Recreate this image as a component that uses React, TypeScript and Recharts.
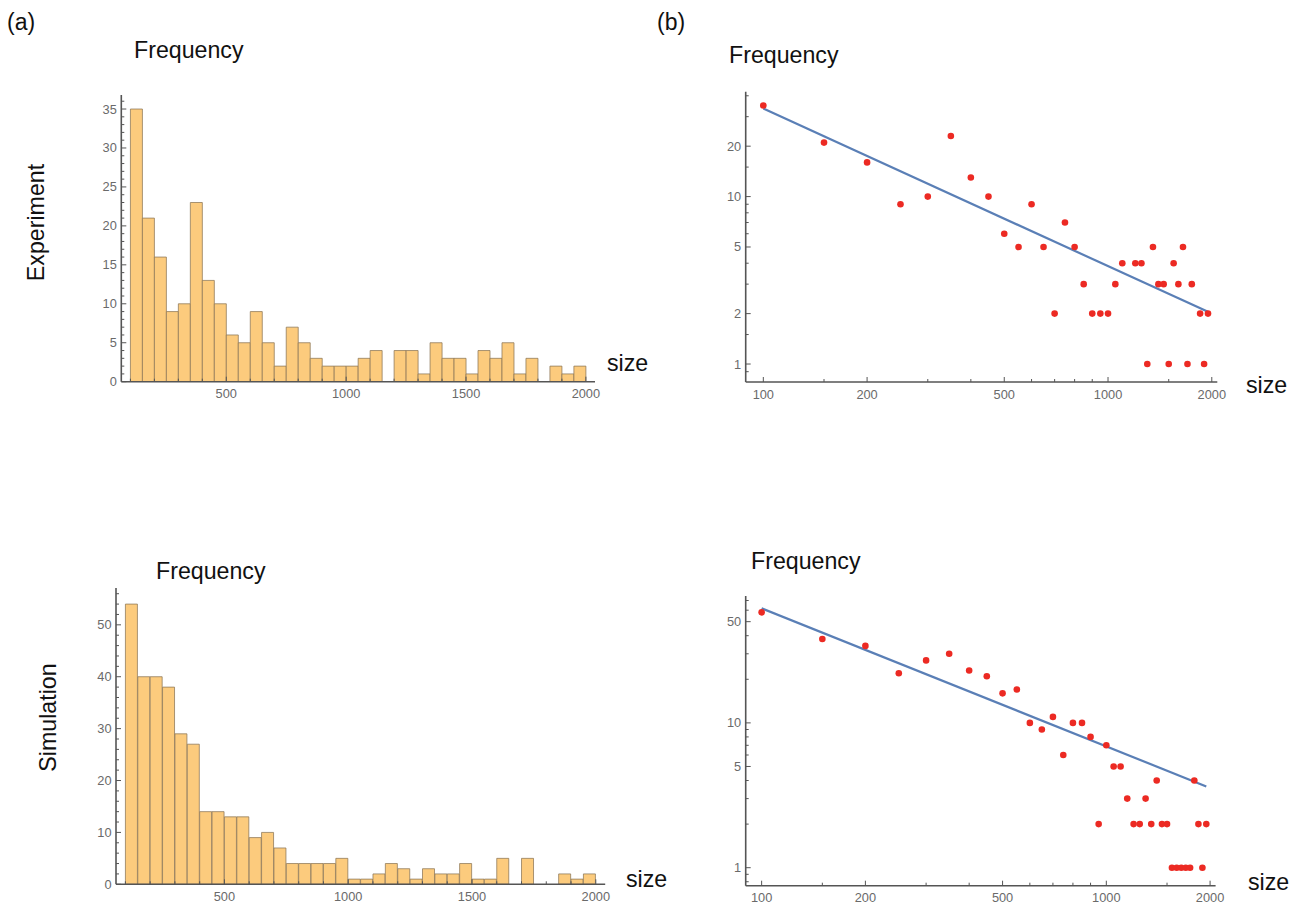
import React from 'react';
import { BarChart, Bar, XAxis, YAxis, ScatterChart, Scatter } from 'recharts';

// ---------- DATA ----------
const binStarts = [
  100, 150, 200, 250, 300, 350, 400, 450, 500, 550,
  600, 650, 700, 750, 800, 850, 900, 950, 1000, 1050,
  1100, 1150, 1200, 1250, 1300, 1350, 1400, 1450, 1500, 1550,
  1600, 1650, 1700, 1750, 1800, 1850, 1900, 1950,
];
const binWidth = 50;

const experimentCounts = [
  35, 21, 16, 9, 10, 23, 13, 10, 6, 5,
  9, 5, 2, 7, 5, 3, 2, 2, 2, 3,
  4, 0, 4, 4, 1, 5, 3, 3, 1, 4,
  3, 5, 1, 3, 0, 2, 1, 2,
];
const simulationCounts = [
  54, 40, 40, 38, 29, 27, 14, 14, 13, 13,
  9, 10, 7, 4, 4, 4, 4, 5, 1, 1,
  2, 4, 3, 1, 3, 2, 2, 4, 1, 1,
  5, 0, 5, 0, 0, 2, 1, 2,
];
const simulationLogCounts = [
  58, 38, 34, 22, 27, 30, 23, 21, 16, 17,
  10, 9, 11, 6, 10, 10, 8, 2, 7, 5,
  5, 3, 2, 2, 3, 2, 4, 2, 2, 1,
  1, 1, 1, 1, 4, 2, 1, 2,
];

const experimentFitSizes = [100, 1950];
const experimentFitValues = [33.6, 2.05];
const simulationFitSizes = [100, 1950];
const simulationFitValues = [61.8, 3.64];

const histXMajor = [500, 1000, 1500, 2000];
const histXMinor = [100, 200, 300, 400, 600, 700, 800, 900, 1100, 1200, 1300, 1400, 1600, 1700, 1800, 1900];
const expYMajor = [0, 5, 10, 15, 20, 25, 30, 35];
const expYMinor = [1, 2, 3, 4, 6, 7, 8, 9, 11, 12, 13, 14, 16, 17, 18, 19, 21, 22, 23, 24, 26, 27, 28, 29, 31, 32, 33, 34, 36];
const simYMajor = [0, 10, 20, 30, 40, 50];
const simYMinor = [2, 4, 6, 8, 12, 14, 16, 18, 22, 24, 26, 28, 32, 34, 36, 38, 42, 44, 46, 48, 52, 54, 56];
const logXMajor = [100, 200, 500, 1000, 2000];
const logXMinor = [150, 300, 400, 600, 700, 800, 900, 1500];
const expLogYMajor = [1, 2, 5, 10, 20];
const expLogYMinor = [0.9, 1.5, 3, 4, 6, 7, 8, 9, 15, 30, 40];
const simLogYMajor = [1, 5, 10, 50];
const simLogYMinor = [0.8, 0.9, 2, 3, 4, 6, 7, 8, 9, 20, 30, 40, 60, 70];

// ---------- TABLES ----------
const histTable = (counts: number[]) =>
  binStarts
    .map((s, i) => ({ start: s, mid: s + binWidth / 2, count: counts[i] }))
    .filter((d) => d.count > 0);
const logTable = (counts: number[]) =>
  binStarts.map((s, i) => ({ size: s, count: counts[i] })).filter((d) => d.count > 0);
const fitTable = (xs: number[], ys: number[]) => xs.map((x, i) => ({ size: x, count: ys[i] }));

const expHist = histTable(experimentCounts);
const simHist = histTable(simulationCounts);
const expLog = logTable(experimentCounts);
const simLog = logTable(simulationLogCounts);
const expFit = fitTable(experimentFitSizes, experimentFitValues);
const simFit = fitTable(simulationFitSizes, simulationFitValues);

// ---------- STYLE ----------
const W = 1299;
const H = 906;
const FONT = '"Liberation Sans", Arial, Helvetica, sans-serif';
const AXIS = '#555555';
const TICK_TEXT = '#6a6a6a';
const BAR_FILL = '#FCCB7D';
const BAR_EDGE = '#8b7556';
const DOT = '#EC2A23';
const FIT = '#5A7FB6';
const X_AXIS_H = 20;

const makeYTick = (major: number[]) => (props: any) => {
  const { x, y, payload } = props;
  const isMajor = major.includes(payload.value);
  return (
    <g>
      <line x1={x} y1={y} x2={x + (isMajor ? 5 : 3)} y2={y} stroke={AXIS} strokeWidth={1} />
      {isMajor && (
        <text x={x - 4.5} y={y} textAnchor="end" dominantBaseline="central" fill={TICK_TEXT} fontSize={12.8} fontFamily={FONT}>
          {payload.value}
        </text>
      )}
    </g>
  );
};

const makeXTick = (major: number[]) => (props: any) => {
  const { x, y, payload } = props;
  const isMajor = major.includes(payload.value);
  return (
    <g>
      <line x1={x} y1={y} x2={x} y2={y - (isMajor ? 5 : 3)} stroke={AXIS} strokeWidth={1} />
      {isMajor && (
        <text x={x} y={y + 12} textAnchor="middle" dominantBaseline="central" fill={TICK_TEXT} fontSize={12.8} fontFamily={FONT}>
          {payload.value}
        </text>
      )}
    </g>
  );
};

type Rect = { x0: number; y0: number; x1: number; y1: number };
const marginFor = (r: Rect) => ({ top: r.y0, left: 0, right: W - r.x1, bottom: H - r.y1 - X_AXIS_H });

const layer: React.CSSProperties = { position: 'absolute', left: 0, top: 0, width: W, height: H };

function Histogram(props: { data: any[]; rect: Rect; yMax: number; yMajor: number[]; yMinor: number[] }) {
  const { data, rect, yMax, yMajor, yMinor } = props;
  return (
    <div style={layer}>
      <BarChart width={W} height={H} data={data} margin={marginFor(rect)} barCategoryGap={0} barGap={0}>
        <XAxis
          dataKey="mid"
          type="number"
          domain={[62, 2038]}
          allowDataOverflow
          ticks={[...histXMinor, ...histXMajor].sort((a, b) => a - b)}
          interval={0}
          tickSize={0}
          tickMargin={0}
          height={X_AXIS_H}
          axisLine={{ stroke: AXIS, strokeWidth: 1.6 }}
          tickLine={false}
          tick={makeXTick(histXMajor)}
        />
        <YAxis
          type="number"
          domain={[0, yMax]}
          allowDataOverflow
          ticks={[...yMajor, ...yMinor].sort((a, b) => a - b)}
          interval={0}
          tickSize={0}
          tickMargin={0}
          width={rect.x0}
          axisLine={{ stroke: AXIS, strokeWidth: 1.6 }}
          tickLine={false}
          tick={makeYTick(yMajor)}
        />
        <Bar dataKey="count" fill={BAR_FILL} stroke={BAR_EDGE} strokeWidth={1} strokeOpacity={0.75} isAnimationActive={false} />
      </BarChart>
    </div>
  );
}

const dotShape = (p: any) => <circle cx={p.cx} cy={p.cy} r={3.3} fill={DOT} />;
const noShape = () => <g />;

function LogPlot(props: {
  points: any[];
  fit: any[];
  rect: Rect;
  xDomain: [number, number];
  yDomain: [number, number];
  yMajor: number[];
  yMinor: number[];
}) {
  const { points, fit, rect, xDomain, yDomain, yMajor, yMinor } = props;
  return (
    <div style={layer}>
      <ScatterChart width={W} height={H} margin={marginFor(rect)}>
        <XAxis
          dataKey="size"
          type="number"
          scale="log"
          domain={xDomain}
          allowDataOverflow
          ticks={[...logXMinor, ...logXMajor].sort((a, b) => a - b)}
          interval={0}
          tickSize={0}
          tickMargin={0}
          height={X_AXIS_H}
          axisLine={{ stroke: AXIS, strokeWidth: 1.6 }}
          tickLine={false}
          tick={makeXTick(logXMajor)}
        />
        <YAxis
          dataKey="count"
          type="number"
          scale="log"
          domain={yDomain}
          allowDataOverflow
          ticks={[...yMajor, ...yMinor].sort((a, b) => a - b)}
          interval={0}
          tickSize={0}
          tickMargin={0}
          width={rect.x0}
          axisLine={{ stroke: AXIS, strokeWidth: 1.6 }}
          tickLine={false}
          tick={makeYTick(yMajor)}
        />
        <Scatter data={fit} line={{ stroke: FIT, strokeWidth: 2.2 }} shape={noShape} fill={FIT} isAnimationActive={false} />
        <Scatter data={points} shape={dotShape} fill={DOT} isAnimationActive={false} />
      </ScatterChart>
    </div>
  );
}

const txt = { fontFamily: FONT, fill: '#111', fontSize: 23.2 } as const;

export default function App() {
  return (
    <div style={{ position: 'absolute', left: 0, top: 0, width: W, height: H, background: '#fff', overflow: 'hidden' }}>
      <Histogram data={expHist} rect={{ x0: 121.3, y0: 95, x1: 595, y1: 381.7 }} yMax={36.8} yMajor={expYMajor} yMinor={expYMinor} />
      <Histogram data={simHist} rect={{ x0: 116, y0: 588, x1: 605.2, y1: 884.3 }} yMax={57.1} yMajor={simYMajor} yMinor={simYMinor} />
      <LogPlot
        points={expLog}
        fit={expFit}
        rect={{ x0: 745.7, y0: 91.7, x1: 1217.3, y1: 382 }}
        xDomain={[88.9, 2075]}
        yDomain={[0.781, 42.3]}
        yMajor={expLogYMajor}
        yMinor={expLogYMinor}
      />
      <LogPlot
        points={simLog}
        fit={simFit}
        rect={{ x0: 745.7, y0: 596, x1: 1215.6, y1: 885.7 }}
        xDomain={[89.9, 2075]}
        yDomain={[0.751, 75.2]}
        yMajor={simLogYMajor}
        yMinor={simLogYMinor}
      />
      <svg width={W} height={H} style={{ position: 'absolute', left: 0, top: 0, pointerEvents: 'none' }}>
        <text x={7} y={29.5} {...txt} fontSize={23}>(a)</text>
        <text x={657} y={29.5} {...txt} fontSize={23}>(b)</text>
        <text x={134} y={58.3} {...txt}>Frequency</text>
        <text x={729} y={63} {...txt}>Frequency</text>
        <text x={156} y={579} {...txt}>Frequency</text>
        <text x={751} y={569} {...txt}>Frequency</text>
        <text x={607} y={370.7} {...txt}>size</text>
        <text x={1246} y={392.7} {...txt}>size</text>
        <text x={626} y={887} {...txt}>size</text>
        <text x={1248} y={890} {...txt}>size</text>
        <text x={0} y={0} {...txt} textAnchor="middle" transform="translate(44 222.5) rotate(-90)">Experiment</text>
        <text x={0} y={0} {...txt} textAnchor="middle" transform="translate(56 717.5) rotate(-90)">Simulation</text>
      </svg>
    </div>
  );
}
